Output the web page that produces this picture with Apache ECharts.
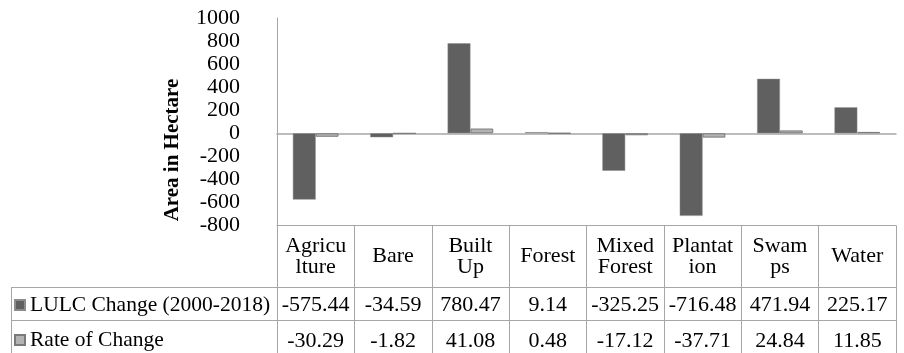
<!DOCTYPE html>
<html>
<head>
<meta charset="utf-8">
<script src="https://cdn.jsdelivr.net/npm/echarts@6/dist/echarts.min.js"></script>
<style>
html,body{margin:0;padding:0;background:#fff;}
#chart{width:904px;height:353px;}
</style>
</head>
<body>
<div id="chart"></div>
<script>
// ---- data ----
var categories = ['Agricu\nlture', 'Bare', 'Built\nUp', 'Forest', 'Mixed\nForest', 'Plantat\nion', 'Swam\nps', 'Water'];
var seriesNames = ['LULC Change (2000-2018)', 'Rate of Change'];
var lulcChange = [-575.44, -34.59, 780.47, 9.14, -325.25, -716.48, 471.94, 225.17];
var rateOfChange = [-30.29, -1.82, 41.08, 0.48, -17.12, -37.71, 24.84, 11.85];
var yTicks = {min: -800, max: 1000, interval: 200};
var yTitle = 'Area in Hectare';

// ---- chart ----
var FONT = 'Liberation Serif';
var FS = 22;
var LINE = '#a6a6a6';

function fmt(arr) {
  return function (v, i) { return arr[i].toFixed(2); };
}

var option = {
  backgroundColor: '#ffffff',
  animation: false,
  grid: {left: 277, right: 8, top: 18, bottom: 127.5, containLabel: false},
  legend: {
    orient: 'vertical',
    left: 14,
    top: 294,
    padding: 0,
    itemGap: 13,
    itemWidth: 10,
    itemHeight: 10,
    icon: 'rect',
    selectedMode: false,
    data: seriesNames,
    textStyle: {fontFamily: FONT, fontSize: 21.5, color: '#000'}
  },
  xAxis: [
    {
      type: 'category', data: categories,
      position: 'bottom',
      axisLine: {show: true, onZero: true, lineStyle: {color: LINE, width: 1.5}},
      axisTick: {show: false},
      axisLabel: {show: false},
      splitLine: {show: false}
    },
    {
      type: 'category', data: categories,
      position: 'bottom', offset: 0,
      axisLine: {show: true, onZero: false, lineStyle: {color: LINE, width: 1}},
      axisTick: {show: true, interval: 0, alignWithLabel: false, length: 128, lineStyle: {color: LINE, width: 1}},
      axisLabel: {interval: 0, fontFamily: FONT, fontSize: FS, color: '#000', lineHeight: 21,
                  verticalAlign: 'middle', margin: 31}
    },
    {
      type: 'category', data: categories,
      position: 'bottom', offset: 62,
      axisLine: {show: true, onZero: false, lineStyle: {color: LINE, width: 1}},
      axisTick: {show: false},
      axisLabel: {interval: 0, fontFamily: FONT, fontSize: FS, color: '#000',
                  verticalAlign: 'middle', margin: 18, formatter: fmt(lulcChange)}
    },
    {
      type: 'category', data: categories,
      position: 'bottom', offset: 95,
      axisLine: {show: true, onZero: false, lineStyle: {color: LINE, width: 1}},
      axisTick: {show: false},
      axisLabel: {interval: 0, fontFamily: FONT, fontSize: FS, color: '#000',
                  verticalAlign: 'middle', margin: 20.5, formatter: fmt(rateOfChange)}
    }
  ],
  yAxis: {
    type: 'value',
    min: yTicks.min, max: yTicks.max, interval: yTicks.interval,
    axisLine: {show: true, lineStyle: {color: LINE, width: 1}},
    axisTick: {show: false},
    splitLine: {show: false},
    axisLabel: {fontFamily: FONT, fontSize: FS, color: '#000', margin: 37,
                formatter: function (v) { return String(v); }}
  },
  graphic: [
    {type: 'line', shape: {x1: 11.5, y1: 287, x2: 11.5, y2: 353}, style: {stroke: LINE, lineWidth: 1}},
    {type: 'line', shape: {x1: 11.5, y1: 287.5, x2: 277, y2: 287.5}, style: {stroke: LINE, lineWidth: 1}},
    {type: 'line', shape: {x1: 11.5, y1: 320.5, x2: 277, y2: 320.5}, style: {stroke: LINE, lineWidth: 1}},
    {type: 'text', x: 173, y: 150, rotation: Math.PI / 2,
     style: {text: yTitle, fontFamily: FONT, fontWeight: 'bold', fontSize: 21, fill: '#000',
             align: 'center', verticalAlign: 'middle'}}
  ],
  series: [
    {
      name: seriesNames[0], type: 'bar', data: lulcChange,
      xAxisIndex: 0, yAxisIndex: 0,
      barGap: '0%', barCategoryGap: '41%',
      itemStyle: {color: '#606060', borderColor: '#8c8c8c', borderWidth: 0.5}
    },
    {
      name: seriesNames[1], type: 'bar', data: rateOfChange,
      xAxisIndex: 0, yAxisIndex: 0,
      barGap: '0%', barCategoryGap: '41%',
      itemStyle: {color: '#b3b3b3', borderColor: '#7a7a7a', borderWidth: 1}
    }
  ]
};

var chart = echarts.init(document.getElementById('chart'));
chart.setOption(option);
</script>
</body>
</html>
